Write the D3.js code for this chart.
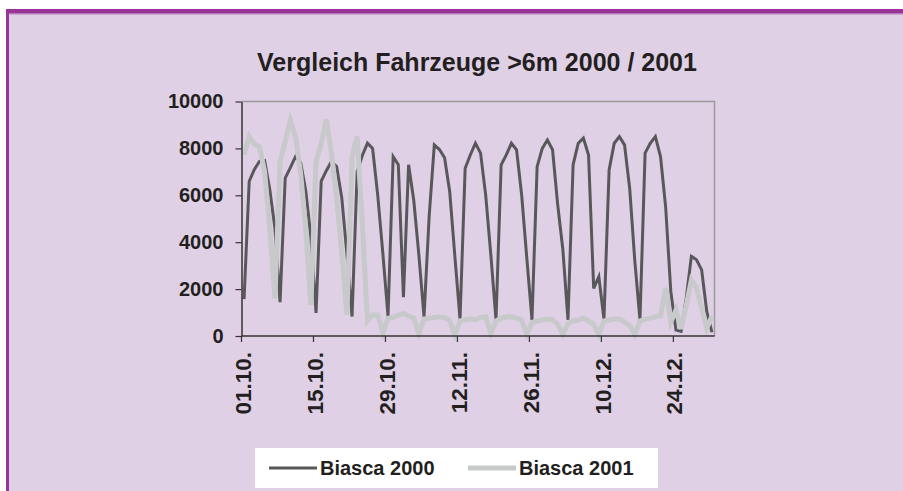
<!DOCTYPE html>
<html>
<head>
<meta charset="utf-8">
<script src="https://cdn.jsdelivr.net/npm/d3@7"></script>
<style>
  body { margin: 0; background: #fff; overflow: hidden; }
  svg { display: block; }
  text { font-family: "Liberation Sans", Arial, sans-serif; font-weight: bold; fill: #231f20; }
</style>
</head>
<body>
<svg id="chart" width="903" height="491"></svg>
<script>
// daily counts, 1 Oct - 31 Dec
var biasca2000 = [
  1570, 6600, 7100, 7450, 7480, 6250, 4600,
  1440, 6730, 7180, 7650, 7400, 6200, 4200,
  980, 6600, 7050, 7440, 7230, 5900, 3500,
  830, 7000, 7700, 8220, 8000, 6000, 3500,
  840, 7650, 7300, 1660, 7300, 5800, 3450,
  825, 5100, 8150, 7950, 7600, 6150, 3400,
  720, 7150, 7720, 8220, 7800, 6000, 3450,
  690, 7300, 7720, 8220, 7940, 6000, 3300,
  690, 7220, 8000, 8360, 7940, 5600, 3700,
  690, 7300, 8220, 8440, 7720, 2030, 2530,
  720, 7080, 8220, 8500, 8150, 6300, 3200,
  690, 7800, 8220, 8500, 7650, 5500, 1900,
  250, 200, 1600, 3400, 3250, 2820, 1040,
  160
];
var biasca2001 = [
  7725, 8500, 8180, 8070, 7000, 4600, 1600,
  7440, 8290, 9200, 8500, 6950, 4550, 1320,
  7440, 8200, 9240, 7800, 5900, 3550, 900,
  7650, 8500, 4800, 650, 900, 900, 130,
  750, 800, 880, 960, 850, 760, 115,
  720, 760, 790, 820, 790, 650, 60,
  640, 690, 720, 700, 790, 820, 110,
  640, 760, 820, 820, 760, 680, 70,
  570, 640, 680, 720, 700, 500, 70,
  530, 640, 680, 760, 640, 500, 70,
  640, 680, 720, 720, 600, 450, 70,
  640, 720, 760, 820, 870, 2050, 600,
  1110, 300, 1300, 2390, 2050, 1200, 330,
  850
];
var seriesNames = ["Biasca 2000", "Biasca 2001"];
var tickLabels = ["01.10.", "15.10.", "29.10.", "12.11.", "26.11.", "10.12.", "24.12."];
var yTicks = [0, 2000, 4000, 6000, 8000, 10000];

function drawChart() {
  var fmt = d3.timeFormat("%d.%m.");
  var categories = d3.timeDay.range(new Date(2000, 9, 1), new Date(2001, 0, 1)).map(fmt);

  var svg = d3.select("#chart");

  // lavender background, purple strips on top and left
  svg.append("rect").attr("x", 6).attr("y", 9).attr("width", 897).attr("height", 482).attr("fill", "#dfd0e6");
  svg.append("rect").attr("x", 6).attr("y", 9).attr("width", 897).attr("height", 4).attr("fill", "#993399");
  svg.append("rect").attr("x", 9).attr("y", 13).attr("width", 894).attr("height", 1.5).attr("fill", "#b77ab7");
  svg.append("rect").attr("x", 6).attr("y", 9).attr("width", 3).attr("height", 482).attr("fill", "#993399");

  var plotLeft = 241.5, plotRight = 714.5, plotTop = 101.5, plotBottom = 336;

  var x = d3.scaleBand().domain(categories).range([plotLeft, plotRight]).padding(0);
  var y = d3.scaleLinear().domain([0, 10000]).range([plotBottom, plotTop]);
  var bw = x.bandwidth();

  svg.append("text")
    .attr("x", 477).attr("y", 71)
    .attr("text-anchor", "middle")
    .style("font-size", "25px")
    .text("Vergleich Fahrzeuge >6m 2000 / 2001");

  // plot frame (top and right)
  svg.append("path")
    .attr("d", "M" + plotLeft + "," + plotTop + "H" + plotRight + "V" + plotBottom)
    .attr("fill", "none")
    .attr("stroke", "#9a9a9a")
    .attr("stroke-width", 1.5);

  var line = d3.line()
    .x(function(d, i) { return x(categories[i]) + bw / 2; })
    .y(function(d) { return y(d); });

  svg.append("path")
    .datum(biasca2000)
    .attr("fill", "none")
    .attr("stroke", "#58585a")
    .attr("stroke-width", 3)
    .attr("d", line);

  svg.append("path")
    .datum(biasca2001)
    .attr("fill", "none")
    .attr("stroke", "#c8c9ca")
    .attr("stroke-width", 5)
    .attr("d", line);

  // y axis
  var gy = svg.append("g")
    .attr("transform", "translate(" + plotLeft + ",0)")
    .call(d3.axisLeft(y).tickValues(yTicks).tickSize(6).tickPadding(12).tickSizeOuter(0)
      .tickFormat(d3.format("d")));
  gy.select(".domain").attr("stroke", "#333").attr("stroke-width", 1.5);
  gy.selectAll(".tick line").attr("stroke", "#333").attr("stroke-width", 1.2);
  gy.selectAll(".tick text").style("font-size", "20px").attr("font-family", null);

  // x axis, ticks on category boundaries
  var tickCats = tickLabels.map(function(d, i) { return categories[i * 14]; });
  var gx = svg.append("g")
    .attr("transform", "translate(" + (-bw / 2) + "," + plotBottom + ")")
    .call(d3.axisBottom(x).tickValues(tickCats).tickSize(6).tickSizeOuter(0)
      .tickFormat(function(d, i) { return tickLabels[i]; }));
  gx.select(".domain").remove();
  gx.selectAll(".tick line").attr("stroke", "#333").attr("stroke-width", 1.2);
  gx.selectAll(".tick text")
    .attr("transform", "rotate(-90)")
    .attr("x", -16).attr("y", 1).attr("dy", "0.36em")
    .style("text-anchor", "end")
    .style("font-size", "22.5px")
    .attr("font-family", null);
  svg.append("line")
    .attr("x1", plotLeft).attr("x2", plotRight).attr("y1", plotBottom).attr("y2", plotBottom)
    .attr("stroke", "#333").attr("stroke-width", 1.5);

  // legend
  var lg = svg.append("g");
  lg.append("rect").attr("x", 255).attr("y", 448).attr("width", 403).attr("height", 40).attr("fill", "#fff");
  var legendItems = [
    { name: seriesNames[0], color: "#58585a", w: 3, x0: 269 },
    { name: seriesNames[1], color: "#c8c9ca", w: 5, x0: 468 }
  ];
  legendItems.forEach(function(it) {
    lg.append("line")
      .attr("x1", it.x0).attr("x2", it.x0 + 48)
      .attr("y1", 468).attr("y2", 468)
      .attr("stroke", it.color).attr("stroke-width", it.w);
    lg.append("text")
      .attr("x", it.x0 + 51).attr("y", 475)
      .style("font-size", "20px")
      .text(it.name);
  });
}

drawChart();
</script>
</body>
</html>
